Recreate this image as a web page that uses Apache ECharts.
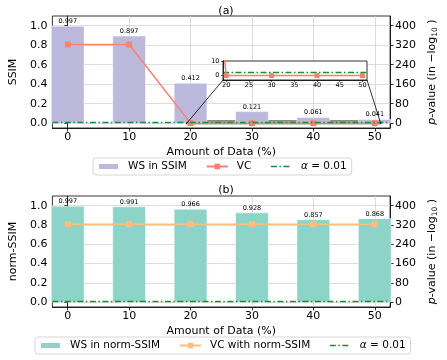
<!DOCTYPE html>
<html>
<head>
<meta charset="utf-8">
<script src="https://cdn.jsdelivr.net/npm/echarts@6/dist/echarts.min.js"></script>
<style>html,body{margin:0;padding:0;background:#fff}#c{width:447px;height:360px}</style>
</head>
<body>
<div id="c"></div>
<script>
// ---- data ----
const X_VALUES = [0, 10, 20, 30, 40, 50];
const WS_SSIM = [0.997, 0.897, 0.412, 0.121, 0.061, 0.041];
const VC_SSIM = [323, 323, 0, 0, 0, 0];
const WS_NORM = [0.997, 0.991, 0.966, 0.928, 0.857, 0.868];
const VC_NORM = [323, 323, 323, 323, 323, 323];
const ALPHA_LOG = 2; // -log10(0.01)
const LEFT_TICKS = [0, 0.2, 0.4, 0.6, 0.8, 1.0];
const RIGHT_TICKS = [0, 80, 160, 240, 320, 400];
const X_TICKS = [0, 10, 20, 30, 40, 50];
const INSET_X_TICKS = [20, 25, 30, 35, 40, 45, 50];
const INSET_Y_TICKS = [0, 10];

// ---- layout / limits ----
const X_MIN = -2.5, X_MAX = 52.5;
const L_MIN = -0.05, L_MAX = 1.1;
const R_MIN = -20, R_MAX = 440;
const IN_X_MIN = 19.3, IN_X_MAX = 51, IN_Y_MIN = -3, IN_Y_MAX = 10;
const FONT = 'DejaVu Sans';
const GRID_W = 366;
const BAR_W = GRID_W * 5 / (X_MAX - X_MIN);
const GREEN = '#1e8a3a';
const DASHDOT = [6, 2.5, 1.5, 2.5];

const pairs = (xs, ys) => xs.map((x, i) => [x, ys[i]]);

function mainAxesX(gridIndex) {
  return {
    type: 'value', gridIndex, min: X_MIN, max: X_MAX,
    name: 'Amount of Data (%)', nameLocation: 'middle', nameGap: 19,
    nameTextStyle: {fontFamily: FONT, fontSize: 11, color: '#000'},
    axisLine: {show: true, onZero: false, lineStyle: {color: '#000', width: 0.8}},
    axisTick: {show: true, customValues: X_TICKS, length: 3.5, lineStyle: {color: '#000', width: 0.8}},
    axisLabel: {customValues: X_TICKS, hideOverlap: false, fontFamily: FONT, fontSize: 11, color: '#000', margin: 4},
    splitLine: {show: true, lineStyle: {color: '#d4d4d4', width: 0.8}}
  };
}
function leftY(gridIndex, name) {
  return {
    type: 'value', gridIndex, min: L_MIN, max: L_MAX, position: 'left',
    name, nameLocation: 'middle', nameGap: 29, nameRotate: 90,
    nameTextStyle: {fontFamily: FONT, fontSize: 11, color: '#000'},
    axisLine: {show: true, lineStyle: {color: '#000', width: 0.8}},
    axisTick: {show: true, customValues: LEFT_TICKS, length: 3.5, lineStyle: {color: '#000', width: 0.8}},
    axisLabel: {customValues: LEFT_TICKS, hideOverlap: false, fontFamily: FONT, fontSize: 11, color: '#000', margin: 5,
      formatter: v => v.toFixed(1)},
    splitLine: {show: true, lineStyle: {color: '#d4d4d4', width: 0.8}}
  };
}
function rightY(gridIndex) {
  return {
    type: 'value', gridIndex, min: R_MIN, max: R_MAX, position: 'right',
    name: '{i|p}-value (in \u2212log{s|10} )', nameLocation: 'middle', nameGap: 30, nameRotate: 90,
    nameTextStyle: {fontFamily: FONT, fontSize: 11, color: '#000',
      rich: {i: {fontStyle: 'italic', fontFamily: FONT, fontSize: 11},
             s: {fontFamily: FONT, fontSize: 7.5, verticalAlign: 'bottom', padding: [5, 0, 0, 0]}}},
    axisLine: {show: true, lineStyle: {color: '#000', width: 0.8}},
    axisTick: {show: true, customValues: RIGHT_TICKS, length: 3.5, lineStyle: {color: '#000', width: 0.8}},
    axisLabel: {customValues: RIGHT_TICKS, hideOverlap: false, fontFamily: FONT, fontSize: 11, color: '#000', margin: 5},
    splitLine: {show: false}
  };
}
function legend(top, left, items) {
  return {
    top, left, orient: 'horizontal',
    padding: [3, 5, 3, 4], itemGap: 19, itemWidth: 21, itemHeight: 7,
    borderColor: '#cccccc', borderWidth: 0.8, borderRadius: 3, backgroundColor: '#fff',
    data: items,
    formatter: n => n === 'α = 0.01' ? '{i|α} = 0.01' : n,
    textStyle: {fontFamily: FONT, fontSize: 10.5, color: '#000', padding: [0, 0, 0, 4],
      rich: {i: {fontStyle: 'italic', fontFamily: FONT, fontSize: 10.5}}}
  };
}
const barLabel = {show: true, position: 'top', distance: 1, fontFamily: FONT, fontSize: 6.5, color: '#000',
  formatter: p => p.value[1].toFixed(3)};
const alphaMarkLine = {silent: true, symbol: ['none', 'none'], label: {show: false},
  lineStyle: {color: GREEN, width: 1.3, type: DASHDOT}, data: [{yAxis: ALPHA_LOG}]};
const alphaLegendItem = {name: 'α = 0.01', itemStyle: {opacity: 0}, lineStyle: {color: GREEN, width: 1.3, type: DASHDOT}};

const chart = echarts.init(document.getElementById('c'), null, {renderer: 'canvas'});
const option = {
  animation: false,
  backgroundColor: '#fff',
  title: [
    {text: '(a)', left: 221, top: 1, textAlign: 'center', textStyle: {fontFamily: FONT, fontSize: 11, fontWeight: 'normal', color: '#000'}},
    {text: '(b)', left: 221, top: 180, textAlign: 'center', textStyle: {fontFamily: FONT, fontSize: 11, fontWeight: 'normal', color: '#000'}}
  ],
  grid: [
    {left: 38, top: 16, width: GRID_W, height: 112, show: true, borderColor: '#000', borderWidth: 0.8, z: 0},
    {left: 223, top: 61, width: 144, height: 19, show: true, borderColor: '#000', borderWidth: 0.8, backgroundColor: '#fff', z: 5},
    {left: 38, top: 196, width: GRID_W, height: 111, show: true, borderColor: '#000', borderWidth: 0.8, z: 0}
  ],
  xAxis: [
    mainAxesX(0),
    {type: 'value', gridIndex: 1, min: IN_X_MIN, max: IN_X_MAX, z: 6,
      axisLine: {show: true, onZero: false, lineStyle: {color: '#000', width: 0.8}},
      axisTick: {show: true, customValues: INSET_X_TICKS, length: 2, lineStyle: {color: '#000', width: 0.6}},
      axisLabel: {customValues: INSET_X_TICKS, hideOverlap: false, fontFamily: FONT, fontSize: 6.5, color: '#000', margin: 2},
      splitLine: {show: false}},
    mainAxesX(2)
  ],
  yAxis: [
    leftY(0, 'SSIM'),
    rightY(0),
    {type: 'value', gridIndex: 1, min: IN_Y_MIN, max: IN_Y_MAX, z: 6,
      axisLine: {show: true, onZero: false, lineStyle: {color: '#000', width: 0.8}},
      axisTick: {show: true, customValues: INSET_Y_TICKS, length: 2, lineStyle: {color: '#000', width: 0.6}},
      axisLabel: {show: false},
      splitLine: {show: false}},
    leftY(2, 'norm-SSIM'),
    rightY(2)
  ],
  legend: [
    legend(158, 93, [
      {name: 'WS in SSIM', icon: 'rect'},
      {name: 'VC'},
      alphaLegendItem
    ]),
    legend(337, 35, [
      {name: 'WS in norm-SSIM', icon: 'rect'},
      {name: 'VC with norm-SSIM'},
      alphaLegendItem
    ])
  ],
  series: [
    // (a)
    {name: 'WS in SSIM', type: 'bar', xAxisIndex: 0, yAxisIndex: 0, barWidth: BAR_W,
      itemStyle: {color: '#bdb9dc', borderColor: '#fff', borderWidth: 0.5},
      label: barLabel, data: pairs(X_VALUES, WS_SSIM), z: 2},
    {name: 'VC', type: 'line', xAxisIndex: 0, yAxisIndex: 1, symbol: 'rect', symbolSize: 6,
      itemStyle: {color: '#fa8072'}, lineStyle: {color: '#fa8072', width: 1.5},
      data: pairs(X_VALUES, VC_SSIM), z: 3},
    {name: 'α = 0.01', type: 'line', xAxisIndex: 0, yAxisIndex: 1, symbol: 'none', showSymbol: false,
      itemStyle: {color: GREEN}, lineStyle: {color: GREEN, width: 1.3, type: DASHDOT},
      data: [], markLine: alphaMarkLine,
      markArea: {silent: true, itemStyle: {color: 'rgba(90,90,90,0.55)', borderColor: '#555', borderWidth: 0.8},
        data: [[{coord: [IN_X_MIN, IN_Y_MIN]}, {coord: [IN_X_MAX, IN_Y_MAX]}]]}, z: 4},
    // inset
    {name: 'VC', type: 'line', xAxisIndex: 1, yAxisIndex: 2, symbol: 'rect', symbolSize: 5, clip: true,
      itemStyle: {color: '#fa8072'}, lineStyle: {color: '#fa8072', width: 1.5},
      data: pairs(X_VALUES, VC_SSIM), z: 8},
    {name: 'α = 0.01', type: 'line', xAxisIndex: 1, yAxisIndex: 2, symbol: 'none',
      itemStyle: {color: GREEN}, lineStyle: {color: GREEN, width: 1.3, type: DASHDOT},
      data: [], markLine: alphaMarkLine, z: 8},
    // (b)
    {name: 'WS in norm-SSIM', type: 'bar', xAxisIndex: 2, yAxisIndex: 3, barWidth: BAR_W,
      itemStyle: {color: '#8dd3c7', borderColor: '#fff', borderWidth: 0.5},
      label: barLabel, data: pairs(X_VALUES, WS_NORM), z: 2},
    {name: 'VC with norm-SSIM', type: 'line', xAxisIndex: 2, yAxisIndex: 4, symbol: 'rect', symbolSize: 6,
      itemStyle: {color: '#fdbf80'}, lineStyle: {color: '#fdbf80', width: 1.5},
      data: pairs(X_VALUES, VC_NORM), z: 3},
    {name: 'α = 0.01', type: 'line', xAxisIndex: 2, yAxisIndex: 4, symbol: 'none',
      itemStyle: {color: GREEN}, lineStyle: {color: GREEN, width: 1.3, type: DASHDOT},
      data: [], markLine: alphaMarkLine, z: 4}
  ]
};
chart.setOption(option);

// connector lines between inset and the zoomed region, and inset y tick labels (placed via the inset scale)
const rBL = chart.convertToPixel({xAxisIndex: 0, yAxisIndex: 1}, [IN_X_MIN, IN_Y_MIN]);
const rBR = chart.convertToPixel({xAxisIndex: 0, yAxisIndex: 1}, [IN_X_MAX, IN_Y_MIN]);
const iBL = chart.convertToPixel({xAxisIndex: 1, yAxisIndex: 2}, [IN_X_MIN, IN_Y_MIN]);
const iBR = chart.convertToPixel({xAxisIndex: 1, yAxisIndex: 2}, [IN_X_MAX, IN_Y_MIN]);
const graphics = [
  {type: 'line', z: 20, shape: {x1: iBL[0], y1: iBL[1], x2: rBL[0], y2: rBL[1]}, style: {stroke: '#000', lineWidth: 0.8}},
  {type: 'line', z: 20, shape: {x1: iBR[0], y1: iBR[1], x2: rBR[0], y2: rBR[1]}, style: {stroke: '#000', lineWidth: 0.8}}
];
INSET_Y_TICKS.forEach(v => {
  const p = chart.convertToPixel({xAxisIndex: 1, yAxisIndex: 2}, [IN_X_MIN, v]);
  graphics.push({type: 'text', z: 20, x: p[0] - 3.5, y: p[1],
    style: {text: String(v), fontFamily: FONT, fontSize: 6.5, fill: '#000', align: 'right', verticalAlign: 'middle'}});
});
chart.setOption({graphic: graphics});
</script>
</body>
</html>
